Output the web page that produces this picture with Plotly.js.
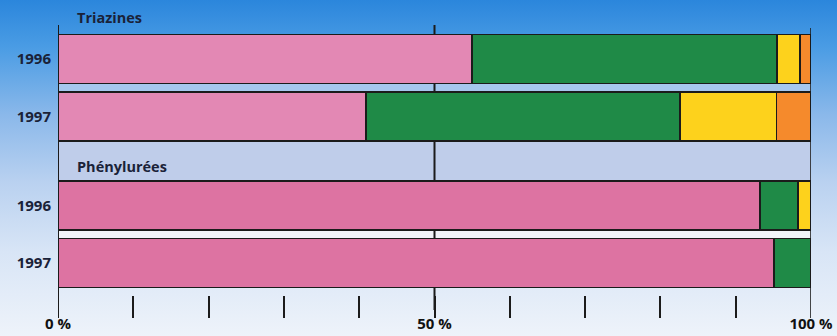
<!DOCTYPE html>
<html>
<head>
<meta charset="utf-8">
<script src="https://cdn.plot.ly/plotly-3.0.1.min.js"></script>
<style>
  html, body { margin: 0; padding: 0; }
  #chart {
    width: 837px; height: 336px;
    background: linear-gradient(to bottom, #2b86dc 0%, #4a9ce4 14%, #8ab8ea 34%, #b9d1f0 54%, #d8e5f6 75%, #eef3fa 100%);
  }
</style>
</head>
<body>
<div id="chart"></div>
<script>
// ---- data ----
const groups = ["Triazines", "Triazines", "Phénylurées", "Phénylurées"];
const years = ["1996", "1997", "1996", "1997"];
const seriesNames = ["Série 1", "Série 2", "Série 3", "Série 4"];
const pinkValues   = [55.0, 40.9, 93.2, 95.1];
const greenValues  = [40.5, 41.7, 5.1, 4.9];
const yellowValues = [3.0, 12.8, 1.7, 0];
const orangeValues = [1.5, 4.6, 0, 0];
const tickValues = [0, 10, 20, 30, 40, 50, 60, 70, 80, 90, 100];
const tickLabels = ["0 %", "", "", "", "", "50 %", "", "", "", "", "100 %"];

// ---- layout constants (pixel-like y units) ----
const rowCenters = [59, 116.5, 205.5, 263];
const barHeight = 49;
const seriesColors = [
  ["#e388b4", "#e388b4", "#dd73a2", "#dd73a2"],
  "#1f8a47", "#fdd21c", "#f58a2c"
];
const allSeries = [pinkValues, greenValues, yellowValues, orangeValues];

const traces = allSeries.map((vals, i) => ({
  type: "bar",
  orientation: "h",
  name: seriesNames[i],
  x: vals,
  y: rowCenters,
  width: rowCenters.map(() => barHeight),
  marker: { color: seriesColors[i], line: { color: "#1b1b1b", width: 1.6 } },
  hoverinfo: "x",
}));

const font = "'Open Sans', 'DejaVu Sans', sans-serif";

const layout = {
  width: 837, height: 336,
  margin: { l: 58, r: 26, t: 0, b: 18 },
  paper_bgcolor: "rgba(0,0,0,0)",
  plot_bgcolor: "rgba(0,0,0,0)",
  barmode: "stack",
  showlegend: false,
  xaxis: {
    range: [0, 100], fixedrange: true,
    tickmode: "array", tickvals: tickValues, ticktext: tickLabels,
    ticks: "inside", ticklen: 22, tickwidth: 2, tickcolor: "#1b1b1b",
    showgrid: false, zeroline: false, showline: false,
    ticklabelstandoff: -5,
    tickfont: { family: font, size: 15, color: "#111", weight: "bold" },
  },
  yaxis: {
    range: [318, 0], autorange: false, fixedrange: true,
    tickmode: "array", tickvals: rowCenters, ticktext: years,
    showgrid: false, zeroline: false, showline: false, ticks: "",
    ticklabelstandoff: 6,
    tickfont: { family: font, size: 15, color: "#1a2238", weight: "bold" },
  },
  shapes: [
    { type: "rect", layer: "below", xref: "x", yref: "y", x0: 0, x1: 100, y0: 141, y1: 181, fillcolor: "#bfcdea", line: { width: 0 } },
    { type: "rect", layer: "below", xref: "x", yref: "y", x0: 0, x1: 100, y0: 84, y1: 92, fillcolor: "#a6c7ee", line: { width: 0 } },
    { type: "rect", layer: "below", xref: "x", yref: "y", x0: 0, x1: 100, y0: 230, y1: 238, fillcolor: "#f1f4f9", line: { width: 0 } },
    { type: "line", layer: "below", xref: "x", yref: "y", x0: 50, x1: 50, y0: 25, y1: 310, line: { color: "#1b1b1b", width: 2 } },
    { type: "line", layer: "above", xref: "x", yref: "y", x0: 0, x1: 0, y0: 25, y1: 318, line: { color: "#1b1b1b", width: 2 } },
    { type: "line", layer: "above", xref: "x", yref: "y", x0: 100, x1: 100, y0: 28, y1: 318, line: { color: "#1b1b1b", width: 1.6 } },
  ],
  annotations: [
    { text: "Triazines", xref: "x", yref: "y", x: 2.2, y: 17, xanchor: "left", yanchor: "middle", showarrow: false,
      font: { family: font, size: 14.5, color: "#1a2238", weight: "bold" } },
    { text: "Phénylurées", xref: "x", yref: "y", x: 2.2, y: 166, xanchor: "left", yanchor: "middle", showarrow: false,
      font: { family: font, size: 14.5, color: "#1a2238", weight: "bold" } },
  ],
};

Plotly.newPlot("chart", traces, layout, { displayModeBar: false, staticPlot: true });
</script>
</body>
</html>
